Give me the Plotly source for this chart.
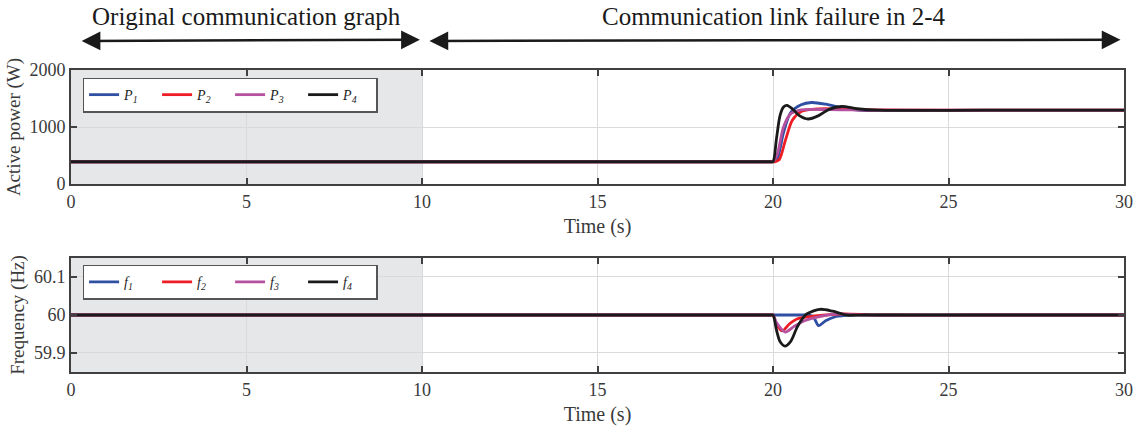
import plotly.graph_objects as go
from plotly.subplots import make_subplots

# ---- data ----
t_p1 = [0, 10, 19.0, 19.85, 19.95, 20.1, 20.3, 20.5, 20.8, 21.1, 21.5, 22.0, 22.5, 23.0, 26.0, 30]
p1 = [390, 390, 390, 390, 390, 420, 900, 1250, 1390, 1430, 1400, 1330, 1290, 1292, 1292, 1292]
t_p2 = [0, 10, 19.0, 19.95, 20.05, 20.18, 20.35, 20.55, 20.8, 21.1, 21.5, 22.0, 23.0, 26.0, 30]
p2 = [390, 390, 390, 390, 390, 430, 760, 1120, 1270, 1310, 1320, 1310, 1300, 1295, 1295]
t_p3 = [0, 10, 19.0, 19.9, 20.0, 20.12, 20.3, 20.5, 20.8, 21.2, 21.6, 22.2, 23.0, 26.0, 30]
p3 = [390, 390, 390, 390, 390, 520, 1000, 1230, 1300, 1310, 1305, 1300, 1295, 1295, 1295]
t_p4 = [0, 10, 19.0, 19.93, 20.0, 20.1, 20.2, 20.3, 20.4, 20.55, 20.75, 21.0, 21.3, 21.6, 21.95, 22.4, 23.0, 26.0, 30]
p4 = [390, 390, 390, 390, 390, 800, 1200, 1350, 1380, 1320, 1200, 1140, 1200, 1310, 1360, 1320, 1295, 1295, 1295]

t_f1 = [0, 10, 20.0, 20.9, 21.0, 21.15, 21.3, 21.5, 21.8, 22.2, 23.0, 26.0, 30]
f1 = [60, 60, 60, 60, 60, 59.995, 59.972, 59.985, 59.996, 60.0, 60.0, 60.0, 60.0]
t_f2 = [0, 10, 19.0, 19.93, 20.0, 20.1, 20.27, 20.45, 20.7, 21.0, 21.5, 22.0, 23.0, 26.0, 30]
f2 = [60, 60, 60, 60, 60, 59.975, 59.958, 59.975, 59.99, 59.995, 60.0, 60.003, 60.0, 60.0, 60.0]
t_f3 = [0, 10, 19.0, 19.93, 20.0, 20.1, 20.35, 20.6, 20.9, 21.3, 21.8, 22.5, 26.0, 30]
f3 = [60, 60, 60, 60, 60, 59.98, 59.955, 59.97, 59.985, 59.995, 60.003, 60.0, 60.0, 60.0]
t_f4 = [0, 10, 19.0, 19.93, 20.0, 20.1, 20.2, 20.34, 20.5, 20.7, 20.95, 21.34, 21.7, 22.1, 22.6, 26.0, 30]
f4 = [60, 60, 60, 60, 60, 59.96, 59.93, 59.918, 59.93, 59.97, 60.002, 60.015, 60.01, 60.0, 60.0, 60.0, 60.0]

colors = ["#2f4fa3", "#ee1c25", "#b5519f", "#1a1a1a"]
p_names = ["<i>P</i><sub><i>1</i></sub>", "<i>P</i><sub><i>2</i></sub>", "<i>P</i><sub><i>3</i></sub>", "<i>P</i><sub><i>4</i></sub>"]
f_names = ["<i>f</i><sub><i>1</i></sub>", "<i>f</i><sub><i>2</i></sub>", "<i>f</i><sub><i>3</i></sub>", "<i>f</i><sub><i>4</i></sub>"]
x_ticks = [0, 5, 10, 15, 20, 25, 30]
p_ticks = [0, 1000, 2000]
f_ticks = [59.9, 60, 60.1]
f_ticklabels = ["59.9", "60", "60.1"]

FONT = "Liberation Serif"
AX = "#404040"
TXT = "#3a3a3a"

fig = make_subplots(rows=2, cols=1, vertical_spacing=0.245)

for tt, yy, c, n in zip([t_p1, t_p2, t_p3, t_p4], [p1, p2, p3, p4], colors, p_names):
    fig.add_trace(go.Scatter(x=tt, y=yy, mode="lines", name=n,
                             line=dict(color=c, width=2.8, shape="spline", smoothing=0.8),
                             legend="legend"), row=1, col=1)
for tt, yy, c, n in zip([t_f1, t_f2, t_f3, t_f4], [f1, f2, f3, f4], colors, f_names):
    fig.add_trace(go.Scatter(x=tt, y=yy, mode="lines", name=n,
                             line=dict(color=c, width=2.8, shape="spline", smoothing=0.8),
                             legend="legend2"), row=2, col=1)

ax_common = dict(showline=True, linecolor=AX, linewidth=2, mirror="ticks",
                 ticks="inside", ticklen=6, tickwidth=2, tickcolor=AX,
                 showgrid=True, gridcolor="#dadada", gridwidth=1, zeroline=False,
                 automargin=False,
                 tickfont=dict(family=FONT, size=18, color=TXT))

fig.update_xaxes(range=[0, 30], tickvals=x_ticks, **ax_common)
fig.update_xaxes(title=dict(text="Time (s)", font=dict(family=FONT, size=20, color=TXT), standoff=8))
fig.update_yaxes(**ax_common)
fig.update_yaxes(range=[0, 2000], tickvals=p_ticks,
                 title=dict(text="Active power (W)", font=dict(family=FONT, size=19, color=TXT), standoff=4),
                 row=1, col=1)
fig.update_yaxes(range=[59.85, 60.15], tickvals=f_ticks, ticktext=f_ticklabels,
                 title=dict(text="Frequency (Hz)", font=dict(family=FONT, size=19, color=TXT), standoff=4),
                 row=2, col=1)

for yref in ["y", "y2"]:
    xref = "x" if yref == "y" else "x2"
    fig.add_shape(type="rect", xref=xref, yref=yref + " domain", x0=0, x1=10, y0=0, y1=1,
                  fillcolor="#e6e7e9", line=dict(width=0), layer="below")

# arrows and headings
arrow_y = 1.10
for x0, x1 in [(0.26, 9.94), (10.17, 29.9)]:
    fig.add_annotation(x=x1, y=arrow_y, xref="x", yref="paper", ax=x0, ay=arrow_y,
                       axref="x", ayref="pixel", showarrow=True, text="",
                       arrowhead=2, arrowside="end+start", arrowsize=1.5,
                       arrowwidth=2.5, arrowcolor="#1a1a1a")
fig.add_annotation(x=5, y=1.178, xref="x", yref="paper", yanchor="middle",
                   text="Original communication graph",
                   showarrow=False, font=dict(family=FONT, size=25, color="#1a1a1a"))
fig.add_annotation(x=20, y=1.178, xref="x", yref="paper", yanchor="middle",
                   text="Communication link failure in 2-4",
                   showarrow=False, font=dict(family=FONT, size=25, color="#1a1a1a"))

leg_common = dict(orientation="h", bgcolor="white", bordercolor="#555555", borderwidth=1.5,
                  font=dict(family=FONT, size=14, color="#222222"),
                  xanchor="left", yanchor="top", itemwidth=30, tracegroupgap=0,
                  entrywidth=28, entrywidthmode="pixels")
fig.update_layout(
    width=1146, height=427,
    margin=dict(l=71, r=22, t=70, b=55, autoexpand=False),
    paper_bgcolor="white", plot_bgcolor="white",
    legend=dict(x=0.011, y=0.975, **leg_common),
    legend2=dict(x=0.011, y=0.355, **leg_common),
    showlegend=True,
)
fig.write_html("out.html")
